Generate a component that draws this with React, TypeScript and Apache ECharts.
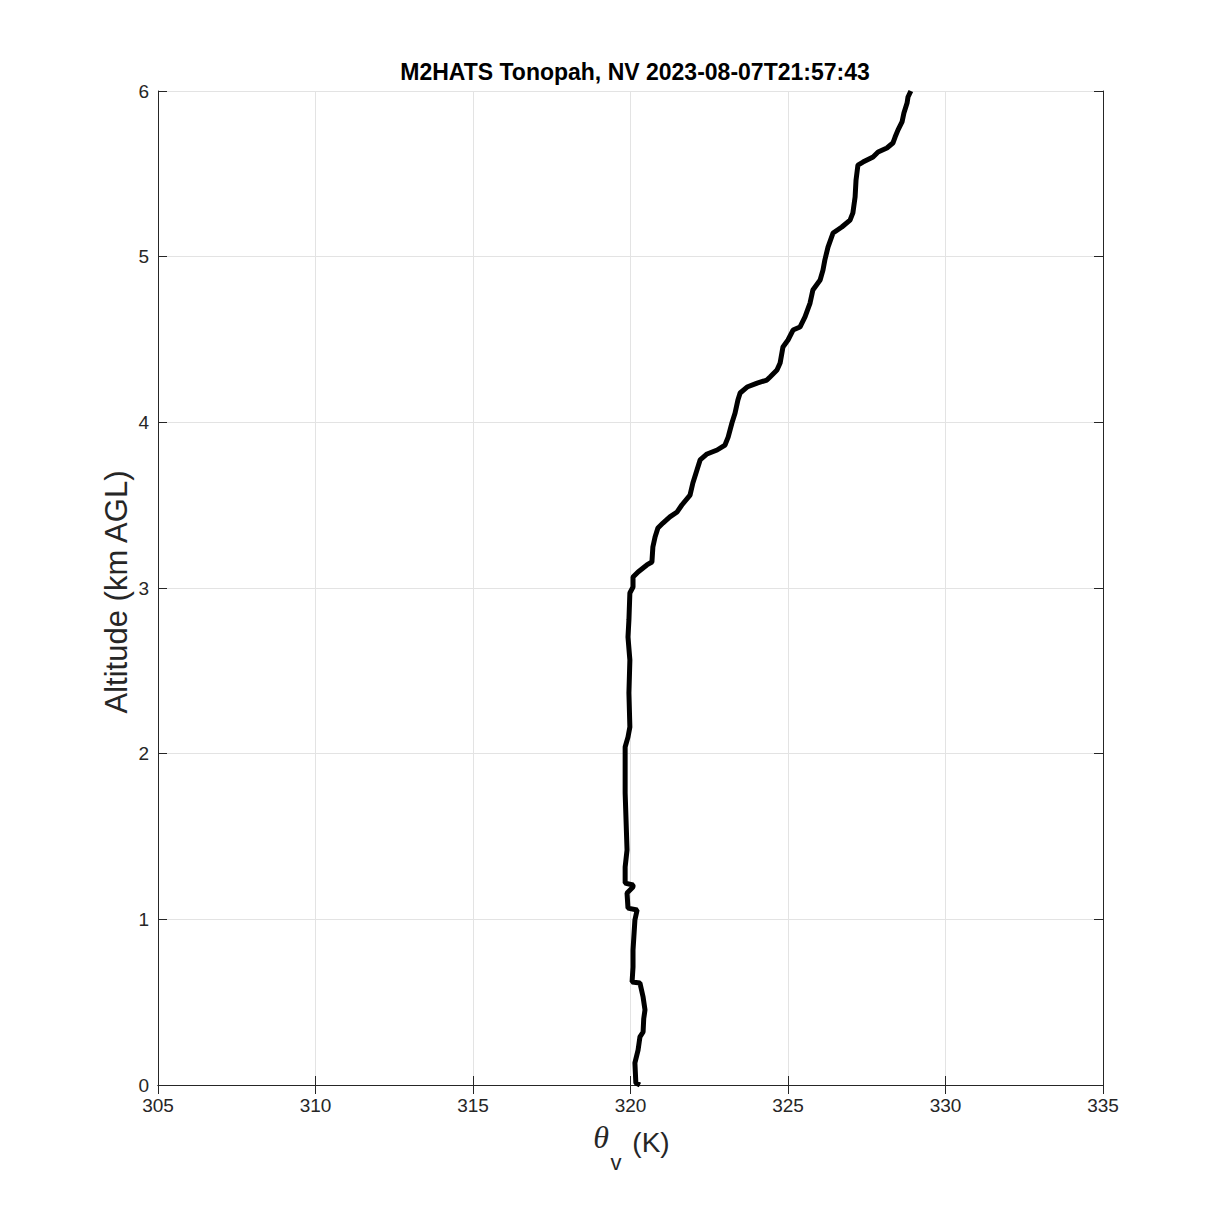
import React, { useEffect, useRef } from "react";
import * as echarts from "echarts";

const titleText = "M2HATS Tonopah, NV 2023-08-07T21:57:43";
const xTicks = [305, 310, 315, 320, 325, 330, 335];
const yTicks = [0, 1, 2, 3, 4, 5, 6];

const altitudeKm = [
  0.0, 0.012, 0.133, 0.211, 0.29, 0.32, 0.4, 0.453, 0.531, 0.616, 0.622, 0.712, 0.815, 0.996, 1.056, 1.068,
  1.159, 1.195, 1.207, 1.219, 1.316, 1.418, 1.763, 2.04, 2.1, 2.161, 2.366, 2.565, 2.704, 2.807, 2.97,
  3.006, 3.066, 3.097, 3.139, 3.157, 3.247, 3.308, 3.362, 3.392, 3.429, 3.459, 3.501, 3.561, 3.634, 3.712,
  3.773, 3.809, 3.833, 3.863, 3.911, 3.996, 4.056, 4.135, 4.177, 4.213, 4.237, 4.255, 4.274, 4.316, 4.358,
  4.455, 4.497, 4.557, 4.575, 4.636, 4.72, 4.799, 4.859, 4.919, 4.98, 5.058, 5.143, 5.179, 5.221, 5.264,
  5.36, 5.463, 5.553, 5.571, 5.602, 5.632, 5.656, 5.686, 5.722, 5.764, 5.813, 5.867, 5.927, 5.964, 6.0,
];
const thetaV = [
  320.3, 320.17, 320.14, 320.24, 320.3, 320.4, 320.42, 320.46, 320.4, 320.3, 320.05, 320.08, 320.08, 320.14, 320.21, 319.92,
  319.89, 320.08, 320.08, 319.83, 319.83, 319.89, 319.83, 319.83, 319.92, 319.98, 319.95, 319.98, 319.92, 319.95, 319.98,
  320.08, 320.08, 320.24, 320.52, 320.68, 320.71, 320.78, 320.87, 321.03, 321.25, 321.48, 321.63, 321.89, 321.98, 322.11,
  322.21, 322.43, 322.75, 323.0, 323.1, 323.22, 323.32, 323.41, 323.48, 323.7, 324.02, 324.33, 324.43, 324.65, 324.75,
  324.84, 325.0, 325.16, 325.38, 325.54, 325.7, 325.79, 326.02, 326.11, 326.17, 326.27, 326.43, 326.71, 326.97, 327.06,
  327.13, 327.16, 327.22, 327.38, 327.7, 327.86, 328.14, 328.33, 328.4, 328.49, 328.62, 328.68, 328.78, 328.81, 328.9,
];

const FONT = "'Liberation Sans', Arial, Helvetica, sans-serif";
const INK = "#262626";

export default function App() {
  const ref = useRef<HTMLDivElement>(null);
  useEffect(() => {
    document.body.style.margin = "0";
    const chart = echarts.init(ref.current!, null, { renderer: "svg" });
    const data = altitudeKm.map((a, i) => [thetaV[i], a]);
    const axisCommon = {
      type: "value" as const,
      axisLine: { show: true, lineStyle: { color: INK, width: 1 } },
      axisTick: { show: true, inside: true, length: 9, lineStyle: { color: INK, width: 1 } },
    };
    chart.setOption({
      animation: false,
      backgroundColor: "#ffffff",
      title: {
        text: titleText,
        left: 630,
        top: 55,
        textAlign: "center",
        textStyle: { fontFamily: FONT, fontSize: 23, fontWeight: "bold", color: "#000" },
      },
      grid: { left: 158, top: 91, width: 945, height: 994, containLabel: false },
      xAxis: [
        {
          ...axisCommon,
          min: xTicks[0],
          max: xTicks[xTicks.length - 1],
          interval: 5,
          position: "bottom",
          axisLabel: { show: true, fontFamily: FONT, fontSize: 19, color: INK, margin: 11 },
          splitLine: { show: true, lineStyle: { color: "#e3e3e3", width: 1 } },
        },
        {
          ...axisCommon,
          min: xTicks[0],
          max: xTicks[xTicks.length - 1],
          interval: 5,
          position: "top",
          axisLabel: { show: false },
          splitLine: { show: false },
        },
      ],
      yAxis: [
        {
          ...axisCommon,
          min: yTicks[0],
          max: yTicks[yTicks.length - 1],
          interval: 1,
          position: "left",
          axisLabel: { show: true, fontFamily: FONT, fontSize: 19, color: INK, margin: 9 },
          splitLine: { show: true, lineStyle: { color: "#e3e3e3", width: 1 } },
        },
        {
          ...axisCommon,
          min: yTicks[0],
          max: yTicks[yTicks.length - 1],
          interval: 1,
          position: "right",
          axisLabel: { show: false },
          splitLine: { show: false },
        },
      ],
      graphic: [
        {
          type: "text",
          x: 116,
          y: 592,
          rotation: Math.PI / 2,
          style: {
            text: "Altitude (km AGL)",
            font: `31px ${FONT}`,
            fill: INK,
            align: "center",
            verticalAlign: "middle",
          },
        },
        {
          type: "text",
          x: 601,
          y: 1137,
          style: {
            text: "θ",
            font: `italic 32px 'Liberation Serif', 'DejaVu Serif', serif`,
            fill: INK,
            align: "center",
            verticalAlign: "middle",
          },
        },
        {
          type: "text",
          x: 616,
          y: 1162,
          style: {
            text: "v",
            font: `22px ${FONT}`,
            fill: INK,
            align: "center",
            verticalAlign: "middle",
          },
        },
        {
          type: "text",
          x: 651,
          y: 1142,
          style: {
            text: "(K)",
            font: `28px ${FONT}`,
            fill: INK,
            align: "center",
            verticalAlign: "middle",
          },
        },
      ],
      series: [
        {
          type: "line",
          data,
          showSymbol: false,
          symbol: "none",
          lineStyle: { color: "#000", width: 5 },
          xAxisIndex: 0,
          yAxisIndex: 0,
          z: 5,
        },
      ],
    });
    return () => chart.dispose();
  }, []);
  return <div ref={ref} style={{ width: 1219, height: 1219 }} />;
}
